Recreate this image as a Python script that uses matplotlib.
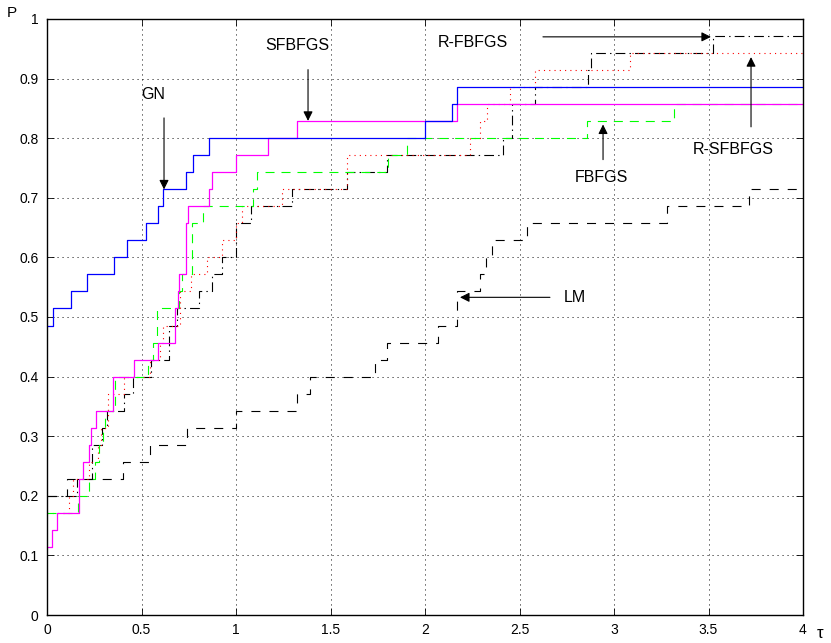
import numpy as np
import matplotlib
matplotlib.use("Agg")
import matplotlib.pyplot as plt

plt.rcParams["font.family"] = ["Liberation Sans", "DejaVu Sans"]
plt.rcParams["lines.scale_dashes"] = False

# --- performance profile data: tau where each step starts, problems solved (of 35) ---
N_PROBLEMS = 35
TAU_MAX = 4.0

gn_tau = [0, 0.033, 0.125, 0.21, 0.355, 0.425, 0.522, 0.586, 0.612, 0.735, 0.774,
          0.859, 2.0, 2.141, 2.168]
gn_cnt = [17, 18, 19, 20, 21, 22, 23, 24, 25, 26, 27, 28, 29, 30, 31]

sfbfgs_tau = [0, 0.025, 0.051, 0.171, 0.189, 0.222, 0.234, 0.258, 0.348, 0.459, 0.586,
              0.679, 0.691, 0.7, 0.735, 0.745, 0.857, 0.875, 1.0, 1.168, 1.321, 2.168]
sfbfgs_cnt = [4, 5, 6, 8, 9, 10, 11, 12, 14, 15, 16, 18, 19, 20, 23, 24, 25, 26, 27, 28,
              29, 30]

fbfgs_tau = [0, 0.166, 0.224, 0.254, 0.275, 0.298, 0.307, 0.36, 0.536, 0.56, 0.584,
             0.7, 0.716, 0.765, 0.827, 1.088, 1.113, 1.802, 1.903, 2.855, 3.319]
fbfgs_cnt = [6, 7, 8, 9, 10, 11, 12, 14, 15, 16, 18, 19, 20, 23, 24, 25, 26, 27, 28,
             29, 30]

rsfbfgs_tau = [0, 0.116, 0.14, 0.222, 0.27, 0.286, 0.321, 0.409, 0.545, 0.6, 0.612,
               0.704, 0.76, 0.848, 0.924, 1.0, 1.03, 1.242, 1.586, 2.238, 2.29, 2.33,
               2.45, 2.582, 3.085]
rsfbfgs_cnt = [6, 7, 8, 9, 10, 11, 13, 14, 15, 16, 17, 19, 20, 21, 22, 23, 24, 25, 27,
               28, 29, 30, 31, 32, 33]

rfbfgs_tau = [0, 0.16, 0.236, 0.289, 0.316, 0.409, 0.457, 0.55, 0.647, 0.686, 0.806,
              0.871, 0.924, 1.0, 1.078, 1.295, 1.586, 1.797, 2.414, 2.459, 2.582, 2.86,
              2.88, 3.522]
rfbfgs_cnt = [7, 8, 10, 11, 12, 13, 14, 15, 17, 18, 19, 20, 21, 23, 24, 25, 26, 27, 28,
              30, 31, 32, 33, 34]

lm_tau = [0, 0.104, 0.4, 0.545, 0.739, 0.998, 1.321, 1.392, 1.735, 1.797, 2.07, 2.168,
          2.29, 2.321, 2.356, 2.541, 3.282, 3.716]
lm_cnt = [7, 8, 9, 10, 11, 12, 13, 14, 15, 16, 17, 19, 20, 21, 22, 23, 24, 25]

x_ticks = [0, 0.5, 1, 1.5, 2, 2.5, 3, 3.5, 4]
x_labels = ["0", "0.5", "1", "1.5", "2", "2.5", "3", "3.5", "4"]
y_ticks = [0, 0.1, 0.2, 0.3, 0.4, 0.5, 0.6, 0.7, 0.8, 0.9, 1]
y_labels = ["0", "0.1", "0.2", "0.3", "0.4", "0.5", "0.6", "0.7", "0.8", "0.9", "1"]


def draw_profile(ax, taus, counts, **style):
    xs = np.append(taus, TAU_MAX)
    ys = np.append(counts, counts[-1]) / N_PROBLEMS
    ax.step(xs, ys, where="post", **style)


fig = plt.figure(figsize=(8.31, 6.43), dpi=100)
ax = fig.add_axes([0.0566, 0.0435, 0.9097, 0.927])

# MATLAB 風の点線グリッド
ax.grid(True, color="k", linestyle=(0, (0.8, 2.8)), linewidth=0.6)
ax.set_axisbelow(True)

draw_profile(ax, lm_tau, lm_cnt, color="k", linewidth=0.8, dashes=(6.5, 6.5))
draw_profile(ax, rfbfgs_tau, rfbfgs_cnt, color="k", linewidth=0.8, dashes=(7, 3, 1, 3))
draw_profile(ax, rsfbfgs_tau, rsfbfgs_cnt, color="#ff0000", linewidth=0.8, dashes=(0.8, 3))
draw_profile(ax, fbfgs_tau, fbfgs_cnt, color="#00ff00", linewidth=0.8, dashes=(6.5, 5))
draw_profile(ax, sfbfgs_tau, sfbfgs_cnt, color="#ff00ff", linewidth=0.9)
draw_profile(ax, gn_tau, gn_cnt, color="#0000ff", linewidth=0.9)

ax.set_xlim(0, TAU_MAX)
ax.set_ylim(0, 1)
ax.set_xticks(x_ticks)
ax.set_xticklabels(x_labels)
ax.set_yticks(y_ticks)
ax.set_yticklabels(y_labels)
ax.tick_params(direction="in", top=True, right=True, length=5, width=0.6,
               labelsize=10, pad=6)
for sp in ax.spines.values():
    sp.set_linewidth(1.0)

# 矢印付きラベル
arrow = dict(arrowstyle="-|>", color="k", lw=0.8, mutation_scale=14,
             shrinkA=0, shrinkB=0)
label_kw = dict(fontsize=11.5, ha="center", va="center")

ax.text(0.561, 0.874, "GN", **label_kw)
ax.annotate("", xy=(0.619, 0.714), xytext=(0.619, 0.834), arrowprops=arrow)

ax.text(1.323, 0.956, "SFBFGS", **label_kw)
ax.annotate("", xy=(1.381, 0.829), xytext=(1.381, 0.915), arrowprops=arrow)

ax.text(2.254, 0.961, "R-FBFGS", **label_kw)
ax.annotate("", xy=(3.513, 0.970), xytext=(2.624, 0.970), arrowprops=arrow)

ax.text(3.63, 0.781, "R-SFBFGS", **label_kw)
ax.annotate("", xy=(3.725, 0.936), xytext=(3.725, 0.819), arrowprops=arrow)

ax.text(2.931, 0.734, "FBFGS", **label_kw)
ax.annotate("", xy=(2.942, 0.823), xytext=(2.942, 0.764), arrowprops=arrow)

ax.text(2.794, 0.533, "LM", **label_kw)
ax.annotate("", xy=(2.185, 0.533), xytext=(2.661, 0.533), arrowprops=arrow)

fig.text(12 / 831, 1 - 13 / 643, "P", fontsize=11, ha="center", va="center")
fig.text(820 / 831, 1 - 633 / 643, "τ", fontsize=12, ha="center", va="center")

fig.savefig("out.png", dpi=100)
